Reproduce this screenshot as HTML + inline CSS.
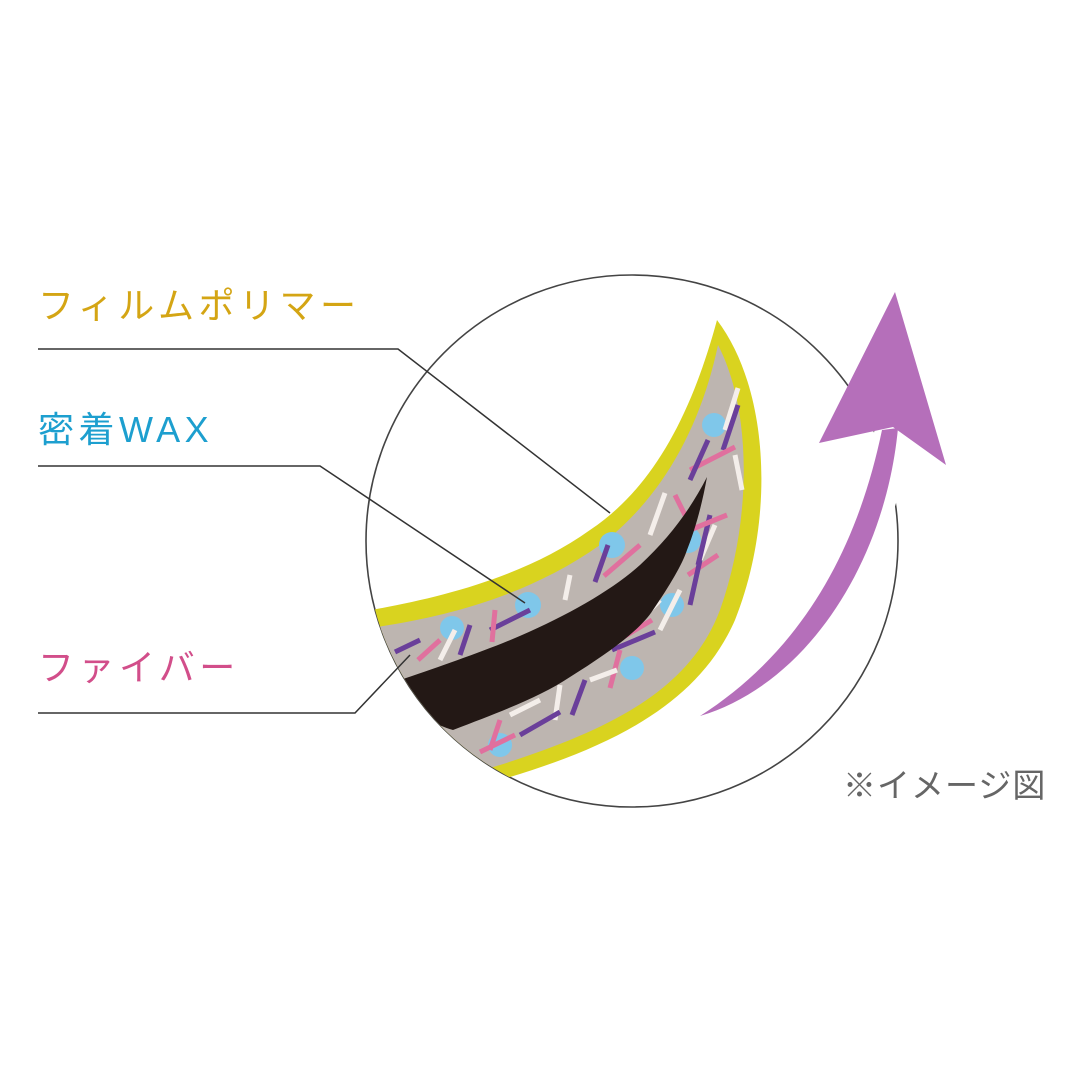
<!DOCTYPE html>
<html><head><meta charset="utf-8"><style>
html,body{margin:0;padding:0;background:#fff;}
svg{display:block;}
text{font-family:"Liberation Sans","Noto Sans CJK JP",sans-serif;}
</style></head><body>
<svg width="1080" height="1080" viewBox="0 0 1080 1080" xmlns="http://www.w3.org/2000/svg">
<rect width="1080" height="1080" fill="#fff"/>
<defs>
<clipPath id="cc"><circle cx="632" cy="541" r="266"/></clipPath>
</defs>
<circle cx="632" cy="541" r="266" fill="#fff" stroke="#444" stroke-width="1.6"/>
<g clip-path="url(#cc)">
<path d="M717,320 C770,390 775,520 735,620 C700,700 620,745 500,780 C440,800 400,805 360,800 L360,612 C430,600 520,580 590,530 C650,490 690,420 717,320 Z" fill="#d9d31f"/>
<path d="M718,345 C752,410 752,520 720,610 C690,690 610,730 500,765 C440,783 400,788 370,785 L370,628 C440,618 525,598 600,545 C660,500 700,430 718,345 Z" fill="#bdb5b0"/>
<g stroke-width="5" stroke-linecap="butt">
<circle cx="714" cy="425" r="12" fill="#7fc7ea"/>
<circle cx="612" cy="545" r="13" fill="#7fc7ea"/>
<circle cx="688" cy="540" r="13" fill="#7fc7ea"/>
<circle cx="528" cy="605" r="13" fill="#7fc7ea"/>
<circle cx="452" cy="628" r="12" fill="#7fc7ea"/>
<circle cx="672" cy="605" r="12" fill="#7fc7ea"/>
<circle cx="632" cy="668" r="12" fill="#7fc7ea"/>
<circle cx="500" cy="745" r="12" fill="#7fc7ea"/>
<line x1="738" y1="388" x2="725" y2="430" stroke="#f4eeea"/>
<line x1="738" y1="405" x2="723" y2="450" stroke="#6a3f9a"/>
<line x1="690" y1="470" x2="735" y2="447" stroke="#e0709e"/>
<line x1="708" y1="440" x2="690" y2="480" stroke="#6a3f9a"/>
<line x1="735" y1="455" x2="742" y2="490" stroke="#f4eeea"/>
<line x1="665" y1="493" x2="650" y2="535" stroke="#f4eeea"/>
<line x1="675" y1="495" x2="690" y2="525" stroke="#e0709e"/>
<line x1="640" y1="545" x2="604" y2="576" stroke="#e0709e"/>
<line x1="608" y1="545" x2="595" y2="582" stroke="#6a3f9a"/>
<line x1="570" y1="575" x2="565" y2="600" stroke="#f4eeea"/>
<line x1="530" y1="610" x2="490" y2="630" stroke="#6a3f9a"/>
<line x1="495" y1="610" x2="492" y2="642" stroke="#e0709e"/>
<line x1="470" y1="625" x2="460" y2="655" stroke="#6a3f9a"/>
<line x1="455" y1="630" x2="440" y2="660" stroke="#f4eeea"/>
<line x1="440" y1="640" x2="418" y2="660" stroke="#e0709e"/>
<line x1="420" y1="640" x2="395" y2="652" stroke="#6a3f9a"/>
<line x1="715" y1="525" x2="700" y2="560" stroke="#f4eeea"/>
<line x1="710" y1="515" x2="698" y2="565" stroke="#6a3f9a"/>
<line x1="727" y1="515" x2="690" y2="530" stroke="#e0709e"/>
<line x1="718" y1="555" x2="688" y2="575" stroke="#e0709e"/>
<line x1="700" y1="560" x2="690" y2="605" stroke="#6a3f9a"/>
<line x1="680" y1="590" x2="660" y2="630" stroke="#f4eeea"/>
<line x1="660" y1="600" x2="640" y2="620" stroke="#f4eeea"/>
<line x1="652" y1="620" x2="615" y2="642" stroke="#e0709e"/>
<line x1="655" y1="632" x2="612" y2="650" stroke="#6a3f9a"/>
<line x1="620" y1="650" x2="610" y2="688" stroke="#e0709e"/>
<line x1="617" y1="670" x2="590" y2="680" stroke="#f4eeea"/>
<line x1="585" y1="680" x2="572" y2="715" stroke="#6a3f9a"/>
<line x1="560" y1="685" x2="555" y2="720" stroke="#f4eeea"/>
<line x1="540" y1="700" x2="510" y2="715" stroke="#f4eeea"/>
<line x1="560" y1="712" x2="520" y2="735" stroke="#6a3f9a"/>
<line x1="500" y1="720" x2="490" y2="750" stroke="#e0709e"/>
<line x1="515" y1="735" x2="480" y2="752" stroke="#e0709e"/>
</g>
<path d="M707,477 C690,510 670,537 640,565 C610,592 560,620 503,643 C470,656 430,670 400,680 L410,700 C420,715 435,725 453,730 C500,712 540,697 570,677 C610,652 640,630 653,610 C670,585 682,565 687,550 C695,530 702,505 707,477 Z" fill="#231815"/>
</g>
<polyline points="38,349 398,349 610,513" fill="none" stroke="#333" stroke-width="1.5"/>
<polyline points="38,466 320,466 525,603" fill="none" stroke="#333" stroke-width="1.5"/>
<polyline points="38,713 355,713 410,655" fill="none" stroke="#333" stroke-width="1.5"/>
<path d="M700,716 C790,660 850,560 878,433 L905,433 C895,560 810,680 700,716 Z" fill="#fff" stroke="#fff" stroke-width="8"/>
<path d="M700,716 C795,655 855,560 882,430 L898,428 C885,565 805,685 700,716 Z" fill="#b56fba"/>
<path d="M895,292 L819,443 L893,427 L946,465 Z" fill="#b56fba"/>
<text x="38" y="318" font-size="36" fill="#d4a514" letter-spacing="4.5">フィルムポリマー</text>
<text x="38" y="442" font-size="36" fill="#1d9fcf" letter-spacing="4.5">密着WAX</text>
<text x="38" y="680" font-size="36" fill="#d24e8a" letter-spacing="4.5">ファイバー</text>
<text x="843" y="797" font-size="33" fill="#666" letter-spacing="1">※イメージ図</text>
</svg>
</body></html>
